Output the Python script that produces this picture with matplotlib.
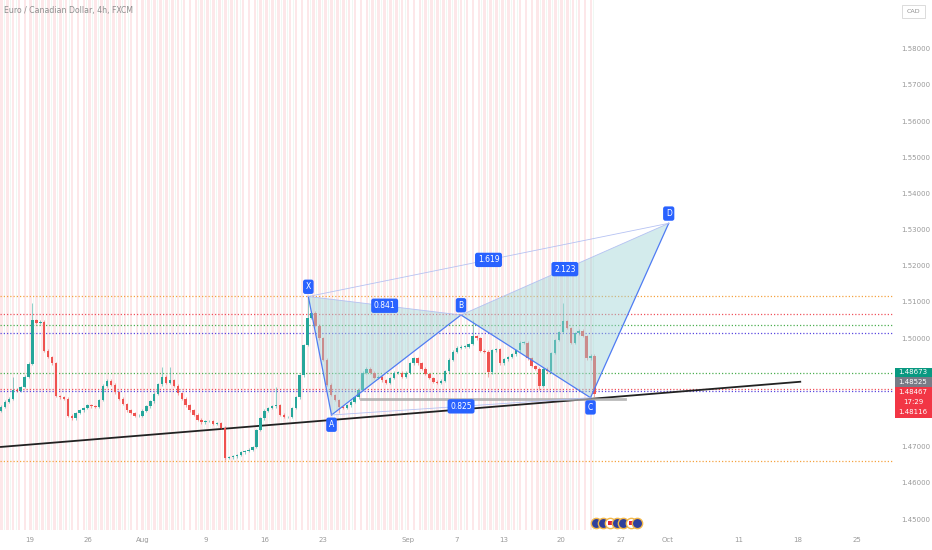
import numpy as np
import matplotlib
matplotlib.use("Agg")
import matplotlib.pyplot as plt
from matplotlib.patches import Rectangle, Polygon

# ---------------- data ----------------
closes = [1.4810,1.4824,1.4832,1.4857,1.4854,1.4865,1.4893,1.4929,1.5050,1.5042,
          1.5045,1.4965,1.4948,1.4931,1.4840,1.4837,1.4832,1.4785,1.4779,1.4793,
          1.4801,1.4807,1.4815,1.4812,1.4810,1.4829,1.4868,1.4882,1.4871,1.4851,
          1.4832,1.4818,1.4801,1.4793,1.4785,1.4785,1.4799,1.4812,1.4826,1.4846,
          1.4873,1.4893,1.4876,1.4884,1.4868,1.4848,1.4832,1.4815,1.4801,1.4788,
          1.4774,1.4768,1.4771,1.4771,1.4763,1.4765,1.4752,1.4669,1.4671,1.4674,
          1.4677,1.4685,1.4688,1.4691,1.4699,1.4746,1.4779,1.4799,1.4807,1.4812,
          1.4815,1.4788,1.4782,1.4782,1.4807,1.4837,1.4898,1.4981,1.5056,1.5070,
          1.5034,1.5000,1.4940,1.4871,1.4843,1.4829,1.4810,1.4807,1.4815,1.4824,
          1.4837,1.4857,1.4904,1.4915,1.4904,1.4890,1.4893,1.4884,1.4876,1.4890,
          1.4904,1.4904,1.4893,1.4904,1.4931,1.4945,1.4931,1.4915,1.4901,1.4890,
          1.4879,1.4876,1.4882,1.4909,1.4940,1.4962,1.4973,1.4976,1.4976,1.4984,
          1.5006,1.5000,1.4965,1.4962,1.4906,1.4967,1.4970,1.4931,1.4942,1.4948,
          1.4956,1.4967,1.4987,1.4987,1.4945,1.4923,1.4915,1.4868,1.4915,1.4909,
          1.4959,1.4995,1.5017,1.5047,1.5028,1.4987,1.5014,1.5020,1.5006,1.4945,
          1.4951,1.4847]
first_open = 1.4800
wick_high = {3: 1.4893, 8: 1.5098, 41: 1.4920, 43: 1.4920, 70: 1.4865,
             78: 1.5115, 120: 1.5050, 143: 1.5097}
wick_low = {57: 1.4663, 86: 1.4793, 124: 1.4893, 137: 1.4857, 151: 1.4838}

# horizontal dotted levels
levels = [1.51166, 1.50660, 1.50372, 1.50151, 1.49029, 1.48603, 1.48540, 1.46612]
level_colors = ["#f5a340", "#f0525c", "#4caf50", "#5a48e0",
                "#4caf50", "#f0525c", "#5a48e0", "#f5a340"]

# XABCD pattern (bar index, price)
pat_names = ["X", "A", "B", "C", "D"]
pat_bars = [78.2, 84.1, 117.05, 150.0, 169.9]
pat_prices = [1.51152, 1.47876, 1.50641, 1.48354, 1.53176]
ratio_labels = {"XB": "0.841", "AC": "0.825", "XD": "1.619", "BD": "2.123"}

# trend line and gray segment
trend_bars = [-0.25, 203.6]
trend_prices = [1.46991, 1.48797]
seg_bars = [91.6, 158.8]
seg_price = 1.48332

# axes labels
date_pos = [7.38, 22.14, 36.13, 52.16, 67.18, 81.93, 103.56, 116.03, 127.99,
            142.49, 157.76, 169.72, 187.79, 202.8, 217.81]
date_labels = ["19", "26", "Aug", "9", "16", "23", "Sep", "7", "13", "20",
               "27", "Oct", "11", "18", "25"]
price_ticks = [1.58, 1.57, 1.56, 1.55, 1.54, 1.53, 1.52, 1.51, 1.50,
               1.47, 1.46, 1.45]

events_bar = [151.4, 153.2, 155.0, 156.7, 158.3, 160.3, 161.8]
events_kind = ["EU", "EU", "CA", "EU", "EU", "CA", "EU"]
events_price = 1.4489

# ---------------- figure ----------------
W, H = 932, 550
fig = plt.figure(figsize=(W / 100, H / 100), dpi=100)
fig.patch.set_facecolor("white")
ax = fig.add_axes([0, 20 / H, 893 / W, 530 / H])
ax.set_facecolor("white")
ax.set_xlim(-0.2545, 226.97)
ax.set_ylim(1.446964, 1.593495)
for s in ax.spines.values():
    s.set_visible(False)

n = len(closes)

# background stripes
for xs in np.arange(-0.25, 151.0, 1.5):
    ax.axvspan(xs, xs + 0.66, color="#fde7e9", lw=0, zorder=0)
    ax.axvspan(xs + 1.0, xs + 1.2, color="#eff8f3", lw=0, zorder=0)

# dotted levels
for lv, c in zip(levels, level_colors):
    ax.axhline(lv, color=c, lw=0.9, ls=(0, (1, 1.6)), zorder=1)

# trend line
ax.plot(trend_bars, trend_prices, color="#222222", lw=1.3, zorder=3,
        solid_capstyle="butt")
ax.plot(seg_bars, [seg_price, seg_price], color="#a8a8a8", lw=2.0, alpha=0.8,
        zorder=3)

# candles
opens = [first_open] + closes[:-1]
up_c, dn_c = "#26a69a", "#ef5350"
for i in range(n):
    o, c = opens[i], closes[i]
    col = up_c if c >= o else dn_c
    hi = wick_high.get(i, max(o, c) + 0.0004)
    lo = wick_low.get(i, min(o, c) - 0.0004)
    ax.vlines(i, lo, hi, color=col, lw=0.6, alpha=0.6, zorder=4)
    h = max(abs(c - o), 0.00012)
    ax.bar(i, h, bottom=min(o, c), width=0.62, color=col, lw=0, zorder=4)

# pattern
P = dict(zip(pat_names, zip(pat_bars, pat_prices)))
fill_c = "#9ed3d6"
for tri in (["X", "A", "B"], ["B", "C", "D"]):
    ax.add_patch(Polygon([P[k] for k in tri], closed=True, fc=fill_c,
                         ec="none", alpha=0.45, zorder=5))
main_c = "#4f7cf3"
for a, b in (("X", "A"), ("A", "B"), ("B", "C"), ("C", "D")):
    ax.plot([P[a][0], P[b][0]], [P[a][1], P[b][1]], color=main_c, lw=0.9, zorder=6)
for a, b in (("X", "B"), ("A", "C"), ("X", "D"), ("B", "D")):
    ax.plot([P[a][0], P[b][0]], [P[a][1], P[b][1]], color="#aebcf2", lw=0.6,
            alpha=0.9, zorder=6)

box_c = "#2962ff"
for k in pat_names:
    up = k in ("X", "B", "D")
    ax.annotate(k, P[k], xytext=(0, 7 if up else -7), textcoords="offset points",
                ha="center", va="center", color="white", fontsize=5.5, zorder=8,
                bbox=dict(boxstyle="round,pad=0.35,rounding_size=0.3", fc=box_c, ec="none"))
for key, txt in ratio_labels.items():
    a, b = key[0], key[1]
    mx = (P[a][0] + P[b][0]) / 2
    my = (P[a][1] + P[b][1]) / 2
    ax.text(mx, my, txt, ha="center", va="center", color="white", fontsize=5.5,
            zorder=8, bbox=dict(boxstyle="round,pad=0.35,rounding_size=0.3",
                                fc=box_c, ec="none"))

# events
for b, k in zip(events_bar, events_kind):
    if k == "EU":
        ax.scatter([b], [events_price], s=55, fc="#2f3f9c", ec="#f3b84a", lw=1.0, zorder=7)
    else:
        ax.scatter([b], [events_price], s=55, fc="white", ec="#f3b84a", lw=1.0, zorder=7)
        ax.scatter([b], [events_price], s=8, marker="s", fc="#e0283a", ec="none", zorder=7)

# axes ticks
ax.set_xticks(date_pos)
ax.set_xticklabels(date_labels)
ax.tick_params(axis="x", length=0, pad=5, labelsize=5, labelcolor="#9a9a9a")
ax.yaxis.tick_right()
ax.set_yticks(price_ticks)
ax.set_yticklabels([f"{t:.5f}" for t in price_ticks])
ax.tick_params(axis="y", length=0, pad=5.8, labelsize=5, labelcolor="#9a9a9a")

# helper for pixel positioned UI items
def fx(x):
    return x / W

def fy(y):
    return 1 - y / H

# title
fig.text(fx(4), fy(10), "Euro / Canadian Dollar, 4h, FXCM", fontsize=5.6,
         color="#8e8e8e", va="center", ha="left")

# CAD box
fig.patches.append(Rectangle((fx(902), fy(18)), 23 / W, 13 / H, transform=fig.transFigure,
                             fc="white", ec="#d6d6d6", lw=0.6))
fig.text(fx(913.5), fy(11.5), "CAD", fontsize=4.6, color="#8e8e8e", ha="center", va="center")

# price boxes
boxes = [(367.5, 377.0, "#089981", ["1.48673"]),
         (377.0, 386.8, "#787b86", ["1.48525"]),
         (386.8, 417.5, "#f23645", ["1.48467", "17:29", "1.48116"])]
for y0, y1, col, lines in boxes:
    fig.patches.append(Rectangle((fx(894.5), fy(y1)), (932 - 894.5) / W, (y1 - y0) / H,
                                 transform=fig.transFigure, fc=col, ec="none"))
    step = (y1 - y0) / len(lines)
    for j, t in enumerate(lines):
        fig.text(fx(913), fy(y0 + step * (j + 0.5)), t, fontsize=5, color="white",
                 ha="center", va="center")

fig.savefig("out.png", dpi=100)
